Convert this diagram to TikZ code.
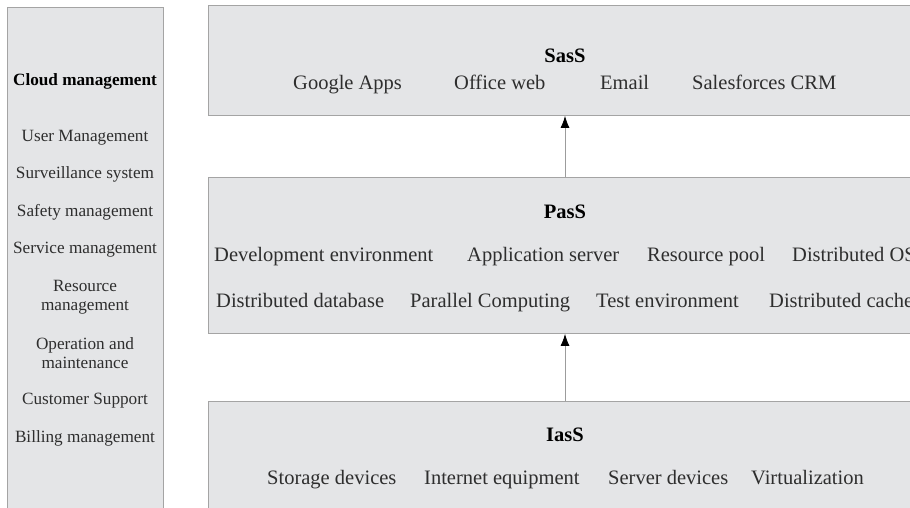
\documentclass[tikz,border=0pt]{standalone}
\usepackage{fontspec}
\setmainfont{Liberation Serif}
\usetikzlibrary{arrows.meta}

\definecolor{boxfill}{HTML}{E4E5E7}
\definecolor{boxline}{HTML}{A4A4A4}
\definecolor{txt}{HTML}{2E2E2E}
\definecolor{arrowline}{HTML}{9C9C9C}

\begin{document}
\begin{tikzpicture}[x=1pt, y=-1pt, >={Latex[length=12pt,width=9pt,color=black]},
	layer/.style={rectangle, draw=boxline, fill=boxfill, line width=0.9pt, inner sep=0pt, anchor=north west},
	item/.style={anchor=base west, inner sep=0pt, text=txt, font=\fontsize{20.5}{24}\selectfont},
	title/.style={anchor=base, inner sep=0pt, text=black, font=\fontsize{20.5}{24}\selectfont\bfseries},
	mgmt/.style={inner sep=0pt, align=center, text=txt, font=\fontsize{17.2}{19}\selectfont}]

			\useasboundingbox (0,0) rectangle (910,508);
			\clip (0,0) rectangle (910,508);

			\def\Lx{208}
			\def\Mx{565}

			% management column
			\node (mgmt) [layer, minimum width=156, minimum height=560] at (7,7) {};
			\node (m0) [mgmt, font=\fontsize{17.2}{19}\selectfont\bfseries, text=black] at (85,81.5) {Cloud management};
			\node (m1) [mgmt] at (85,137.5) {User Management};
			\node (m2) [mgmt] at (85,174.5) {Surveillance system};
			\node (m3) [mgmt] at (85,212.5) {Safety management};
			\node (m4) [mgmt] at (85,249.5) {Service management};
			\node (m5) [mgmt] at (85,297.5) {Resource\\management};
			\node (m6) [mgmt] at (85,353) {Operation and\\maintenance};
			\node (m7) [mgmt] at (85,400.5) {Customer Support};
			\node (m8) [mgmt] at (85,438.5) {Billing management};

			% SasS
			\node (sass) [layer, minimum width=760, minimum height=110] at (\Lx,5) {};
			\node (sassT) [title] at (\Mx,62.5) {SasS};
			\node (s1) [item] at (293,89.5) {Google Apps};
			\node (s2) [item] at (454,89.5) {Office web};
			\node (s3) [item] at (600,89.5) {Email};
			\node (s4) [item] at (692,89.5) {Salesforces CRM};

			% PasS
			\node (pass) [layer, minimum width=760, minimum height=156] at (\Lx,177) {};
			\node (passT) [title] at (\Mx,218.5) {PasS};
			\node (p1) [item] at (214,261.5) {Development environment};
			\node (p2) [item] at (467,261.5) {Application server};
			\node (p3) [item] at (647,261.5) {Resource pool};
			\node (p4) [item] at (792,261.5) {Distributed OS};
			\node (p5) [item] at (216,307.5) {Distributed database};
			\node (p6) [item] at (410,307.5) {Parallel Computing};
			\node (p7) [item] at (596,307.5) {Test environment};
			\node (p8) [item] at (769,307.5) {Distributed cache};

			% IasS
			\node (iass) [layer, minimum width=760, minimum height=150] at (\Lx,401) {};
			\node (iassT) [title] at (\Mx,441.5) {IasS};
			\node (i1) [item] at (267,484.5) {Storage devices};
			\node (i2) [item] at (424,484.5) {Internet equipment};
			\node (i3) [item] at (608,484.5) {Server devices};
			\node (i4) [item] at (751,484.5) {Virtualization};

			\draw[->, arrowline, line width=0.8pt] (pass.north -| passT) -- (sass.south -| passT);
			\draw[->, arrowline, line width=0.8pt] (iass.north -| iassT) -- (pass.south -| iassT);
		\end{tikzpicture}
\end{document}
